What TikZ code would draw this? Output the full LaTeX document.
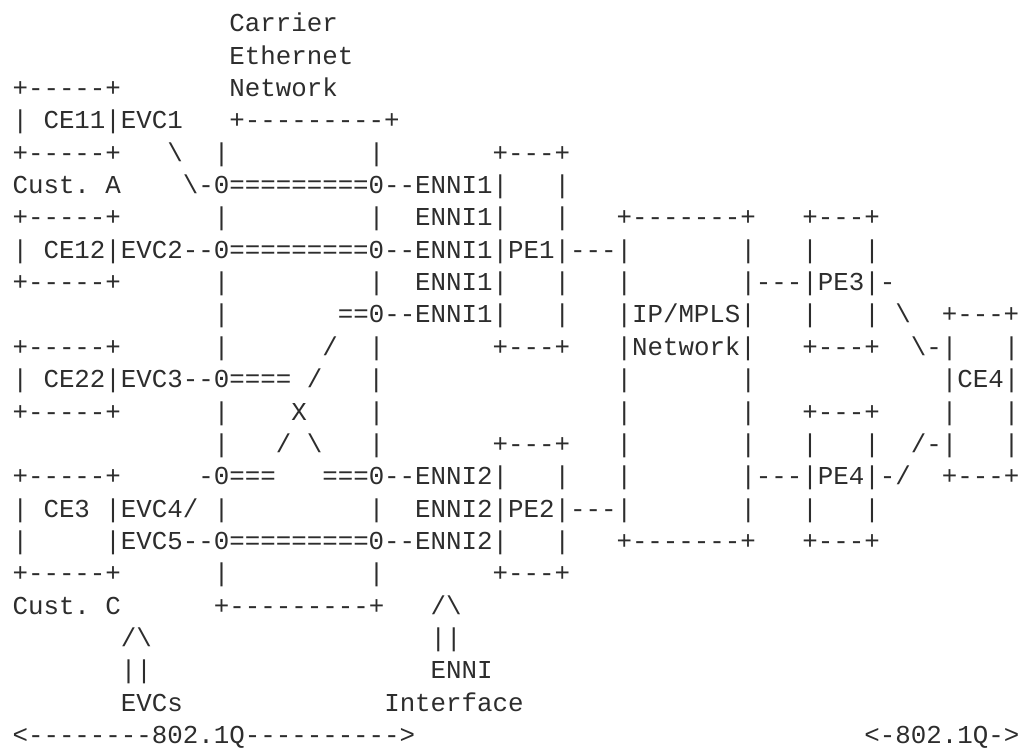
\documentclass[tikz,border=0pt]{standalone}
\usepackage{fontspec}
\setmonofont{Liberation Mono}[RawFeature=+zero]
\definecolor{asciitext}{RGB}{45,45,45}
\newcommand\bksl{\textbackslash}
\begin{document}
\begin{tikzpicture}[x=1pt,y=1pt,
  ln/.style={anchor=base west,inner sep=0pt,outer sep=0pt,text=asciitext,
    font=\ttfamily\fontsize{25.81pt}{30pt}\selectfont\frenchspacing}]
\useasboundingbox[fill=white] (0,0) rectangle (1027,748);
\node[ln] (l00) at (12.55,{716.2-32.35*0})  {~~~~~~~~~~~~~~Carrier};
\node[ln] (l01) at (12.55,{716.2-32.35*1})  {~~~~~~~~~~~~~~Ethernet};
\node[ln] (l02) at (12.55,{716.2-32.35*2})  {+-----+~~~~~~~Network};
\node[ln] (l03) at (12.55,{716.2-32.35*3})  {|~CE11|EVC1~~~+---------+};
\node[ln] (l04) at (12.55,{716.2-32.35*4})  {+-----+~~~\bksl~~|~~~~~~~~~|~~~~~~~+---+};
\node[ln] (l05) at (12.55,{716.2-32.35*5})  {Cust.~A~~~~\bksl-0=========0--ENNI1|~~~|};
\node[ln] (l06) at (12.55,{716.2-32.35*6})  {+-----+~~~~~~|~~~~~~~~~|~~ENNI1|~~~|~~~+-------+~~~+---+};
\node[ln] (l07) at (12.55,{716.2-32.35*7})  {|~CE12|EVC2--0=========0--ENNI1|PE1|---|~~~~~~~|~~~|~~~|};
\node[ln] (l08) at (12.55,{716.2-32.35*8})  {+-----+~~~~~~|~~~~~~~~~|~~ENNI1|~~~|~~~|~~~~~~~|---|PE3|-};
\node[ln] (l09) at (12.55,{716.2-32.35*9})  {~~~~~~~~~~~~~|~~~~~~~==0--ENNI1|~~~|~~~|IP/MPLS|~~~|~~~|~\bksl~~+---+};
\node[ln] (l10) at (12.55,{716.2-32.35*10}) {+-----+~~~~~~|~~~~~~/~~|~~~~~~~+---+~~~|Network|~~~+---+~~\bksl-|~~~|};
\node[ln] (l11) at (12.55,{716.2-32.35*11}) {|~CE22|EVC3--0====~/~~~|~~~~~~~~~~~~~~~|~~~~~~~|~~~~~~~~~~~~|CE4|};
\node[ln] (l12) at (12.55,{716.2-32.35*12}) {+-----+~~~~~~|~~~~X~~~~|~~~~~~~~~~~~~~~|~~~~~~~|~~~+---+~~~~|~~~|};
\node[ln] (l13) at (12.55,{716.2-32.35*13}) {~~~~~~~~~~~~~|~~~/~\bksl~~~|~~~~~~~+---+~~~|~~~~~~~|~~~|~~~|~~/-|~~~|};
\node[ln] (l14) at (12.55,{716.2-32.35*14}) {+-----+~~~~~-0===~~~===0--ENNI2|~~~|~~~|~~~~~~~|---|PE4|-/~~+---+};
\node[ln] (l15) at (12.55,{716.2-32.35*15}) {|~CE3~|EVC4/~|~~~~~~~~~|~~ENNI2|PE2|---|~~~~~~~|~~~|~~~|};
\node[ln] (l16) at (12.55,{716.2-32.35*16}) {|~~~~~|EVC5--0=========0--ENNI2|~~~|~~~+-------+~~~+---+};
\node[ln] (l17) at (12.55,{716.2-32.35*17}) {+-----+~~~~~~|~~~~~~~~~|~~~~~~~+---+};
\node[ln] (l18) at (12.55,{716.2-32.35*18}) {Cust.~C~~~~~~+---------+~~~/\bksl};
\node[ln] (l19) at (12.55,{716.2-32.35*19}) {~~~~~~~/\bksl~~~~~~~~~~~~~~~~~~||};
\node[ln] (l20) at (12.55,{716.2-32.35*20}) {~~~~~~~||~~~~~~~~~~~~~~~~~~ENNI};
\node[ln] (l21) at (12.55,{716.2-32.35*21}) {~~~~~~~EVCs~~~~~~~~~~~~~Interface};
\node[ln] (l22) at (12.55,{716.2-32.35*22}) {<--------802.1Q---------->~~~~~~~~~~~~~~~~~~~~~~~~~~~~~<-802.1Q->};
\end{tikzpicture}
\end{document}
